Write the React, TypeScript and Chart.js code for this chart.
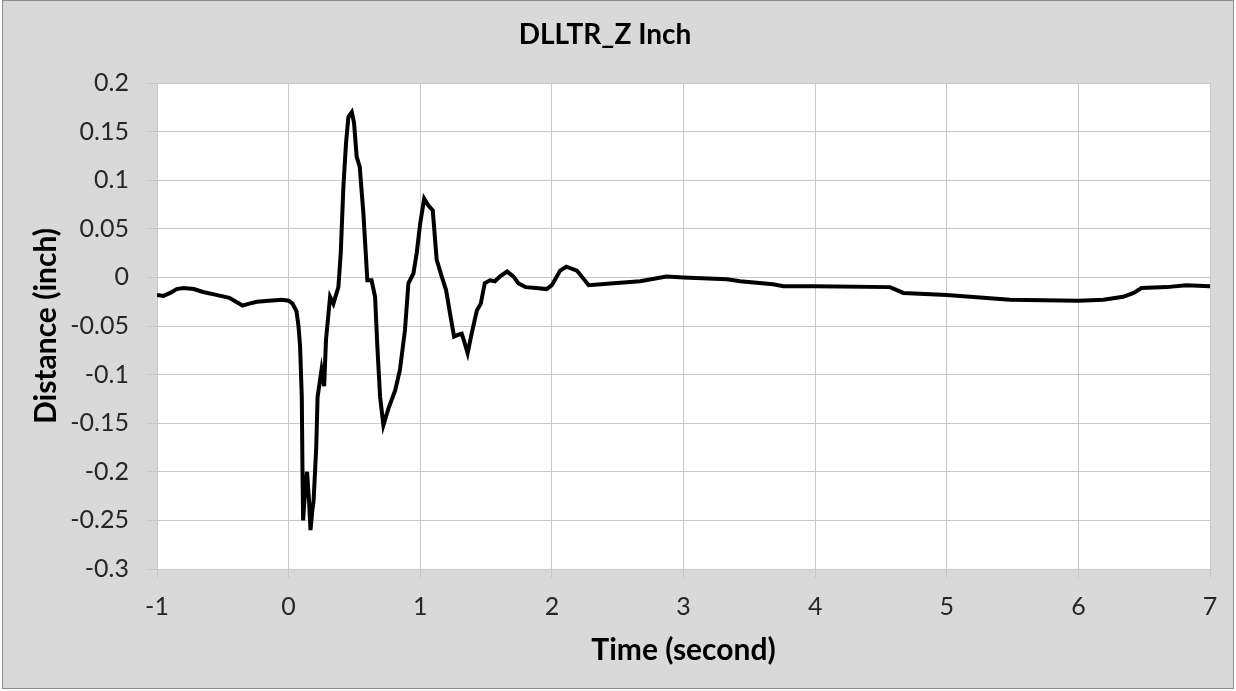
import React, { useEffect, useRef } from "react";
import { Chart, registerables } from "chart.js";

Chart.register(...registerables);

const chartTitle = "DLLTR_Z Inch";
const xAxisTitle = "Time (second)";
const yAxisTitle = "Distance (inch)";

const xTicksMin = -1;
const xTicksMax = 7;
const yTicksMin = -0.3;
const yTicksMax = 0.2;

const times: number[] = [
  -1.0, -0.95, -0.9, -0.85, -0.8, -0.72, -0.65, -0.55, -0.45, -0.4, -0.35, -0.3, -0.24, -0.15, -0.05,
  0.0, 0.03, 0.06, 0.075, 0.087, 0.1, 0.105, 0.11, 0.125, 0.14, 0.155, 0.166, 0.18, 0.19, 0.21,
  0.22, 0.25, 0.27, 0.284, 0.315, 0.34, 0.378, 0.396, 0.416, 0.436, 0.454, 0.48, 0.497, 0.517,
  0.54, 0.568, 0.598, 0.63, 0.657, 0.674, 0.695, 0.72, 0.758, 0.81, 0.846, 0.884, 0.91, 0.948,
  0.973, 1.0, 1.03, 1.062, 1.095, 1.125, 1.163, 1.196, 1.226, 1.257, 1.29, 1.315, 1.33, 1.36,
  1.39, 1.43, 1.46, 1.49, 1.53, 1.567, 1.606, 1.66, 1.707, 1.745, 1.8, 1.88, 1.96, 2.0, 2.063,
  2.11, 2.19, 2.28, 2.47, 2.67, 2.87, 3.0, 3.33, 3.43, 3.68, 3.76, 4.0, 4.57, 4.67, 5.0, 5.48,
  6.0, 6.19, 6.34, 6.42, 6.48, 6.67, 6.82, 7.0,
];

const distances: number[] = [
  -0.018, -0.019, -0.016, -0.012, -0.011, -0.012, -0.015, -0.018, -0.021, -0.025, -0.029, -0.027,
  -0.025, -0.024, -0.023,
  -0.024, -0.027, -0.035, -0.05, -0.071, -0.123, -0.195, -0.25, -0.22, -0.2, -0.23, -0.26, -0.24,
  -0.229, -0.174, -0.123, -0.095, -0.112, -0.064, -0.02, -0.027, -0.01, 0.025, 0.093, 0.138,
  0.165, 0.17, 0.159, 0.124, 0.114, 0.066, -0.003, -0.003, -0.02, -0.071, -0.123, -0.152, -0.135,
  -0.116, -0.095, -0.054, -0.006, 0.004, 0.025, 0.056, 0.081, 0.074, 0.069, 0.018, 0.001, -0.013,
  -0.037, -0.061, -0.059, -0.058, -0.064, -0.078, -0.058, -0.034, -0.027, -0.006, -0.003, -0.004,
  0.001, 0.006, 0.001, -0.006, -0.01, -0.011, -0.012, -0.008, 0.007, 0.011, 0.007, -0.008, -0.006,
  -0.004, 0.001, 0.0, -0.002, -0.004, -0.007, -0.009, -0.009, -0.01, -0.016, -0.018, -0.023,
  -0.024, -0.023, -0.02, -0.016, -0.011, -0.01, -0.008, -0.009,
];

const W = 1236;
const H = 691;

const bgPlugin = {
  id: "bgPlugin",
  beforeDraw(chart: any) {
    const ctx = chart.ctx;
    const a = chart.chartArea;
    ctx.save();
    ctx.fillStyle = "#ffffff";
    ctx.fillRect(0, 0, W, H);
    ctx.fillStyle = "#d9d9d9";
    ctx.fillRect(2, 0, W - 4, H - 2);
    ctx.strokeStyle = "#8c8c8c";
    ctx.lineWidth = 1;
    ctx.strokeRect(2.5, 0.5, W - 5, H - 3);
    ctx.fillStyle = "#ffffff";
    ctx.fillRect(a.left, a.top, a.right - a.left, a.bottom - a.top);
    ctx.restore();
  },
};

export default function App() {
  const ref = useRef<HTMLCanvasElement | null>(null);
  useEffect(() => {
    if (!ref.current) return;
    const points = times.map((t, i) => ({ x: t, y: distances[i] }));
    const chart = new Chart(ref.current, {
      type: "scatter",
      data: {
        datasets: [
          {
            data: points,
            showLine: true,
            borderColor: "#000000",
            borderWidth: 4,
            pointRadius: 0,
            tension: 0,
          },
        ],
      },
      options: {
        responsive: false,
        animation: false,
        layout: { padding: { left: 0, right: 26, top: 0, bottom: 0 } },
        plugins: {
          legend: { display: false },
          tooltip: { enabled: false },
          title: {
            display: true,
            text: chartTitle,
            color: "#000000",
            font: { family: "Lato", size: 28, weight: "bold" },
            padding: { top: 18, bottom: 31.4 },
          },
        },
        scales: {
          x: {
            type: "linear",
            min: xTicksMin,
            max: xTicksMax,
            afterFit(scale: any) {
              scale.height = 122;
            },
            border: { display: false },
            grid: { color: "#c8c8c8", tickColor: "#c8c8c8", tickLength: 9, lineWidth: 1 },
            ticks: {
              stepSize: 1,
              autoSkip: false,
              maxRotation: 0,
              padding: 14,
              color: "#262626",
              font: { family: "Lato", size: 25 },
            },
            title: {
              display: true,
              text: xAxisTitle,
              color: "#000000",
              font: { family: "Lato", size: 30, weight: "bold" },
              padding: { top: 0, bottom: 23 },
            },
          },
          y: {
            type: "linear",
            min: yTicksMin,
            max: yTicksMax,
            afterFit(scale: any) {
              scale.width = 157;
            },
            border: { display: false },
            grid: { color: "#c8c8c8", tickColor: "#c8c8c8", tickLength: 10, lineWidth: 1 },
            ticks: {
              stepSize: 0.05,
              autoSkip: false,
              padding: 18,
              color: "#262626",
              font: { family: "Lato", size: 25 },
              callback: (v: any) => String(Number(Number(v).toFixed(2))),
            },
            title: {
              display: true,
              text: yAxisTitle,
              color: "#000000",
              font: { family: "Lato", size: 30, weight: "bold" },
              padding: { top: 28, bottom: 0 },
            },
          },
        },
      },
      plugins: [bgPlugin],
    } as any);
    return () => chart.destroy();
  }, []);
  return (
    <div style={{ position: "absolute", left: 0, top: 0, width: W, height: H }}>
      <canvas ref={ref} width={W} height={H} style={{ width: W, height: H, display: "block" }} />
    </div>
  );
}
